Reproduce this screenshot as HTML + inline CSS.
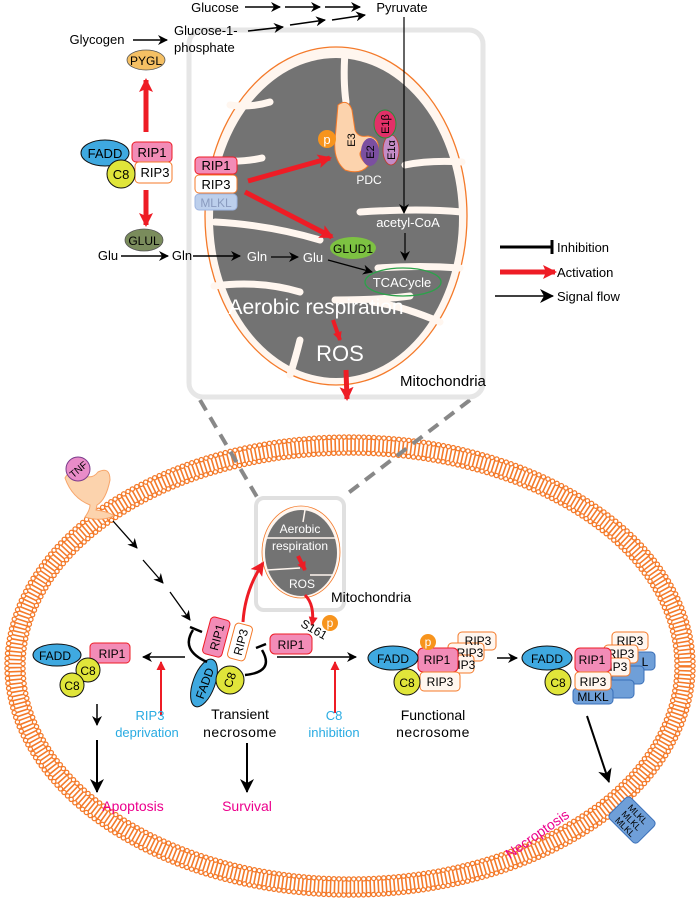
<!DOCTYPE html>
<html><head><meta charset="utf-8"><style>
html,body{margin:0;padding:0;background:#fff}
svg{display:block}
text{font-family:"Liberation Sans",sans-serif}
</style></head><body>
<svg width="700" height="900" viewBox="0 0 700 900" xmlns="http://www.w3.org/2000/svg">
<defs>
<marker id="ab" markerWidth="10" markerHeight="10" refX="9" refY="5" orient="auto" markerUnits="userSpaceOnUse"><path d="M0,0 L10,5 L0,10 L3,5 Z" fill="#000"/></marker>
<marker id="abL" markerWidth="14" markerHeight="14" refX="13" refY="7" orient="auto" markerUnits="userSpaceOnUse"><path d="M0,0 L14,7 L0,14 L4,7 Z" fill="#000"/></marker>
<marker id="ar" markerWidth="14" markerHeight="14" refX="12" refY="7" orient="auto" markerUnits="userSpaceOnUse"><path d="M0,0 L14,7 L0,14 L3,7 Z" fill="#ee1c25"/></marker>
<marker id="ars" markerWidth="9" markerHeight="9" refX="8" refY="4.5" orient="auto" markerUnits="userSpaceOnUse"><path d="M0,0 L9,4.5 L0,9 Z" fill="#ee1c25"/></marker>
</defs>

<!-- cell membrane -->
<ellipse cx="350" cy="666" rx="335" ry="221" fill="none" stroke="#f47a2a" stroke-width="16" stroke-dasharray="1.6 2.4"/>
<ellipse cx="350" cy="666" rx="343" ry="229" fill="none" stroke="#f47a2a" stroke-width="5.5" stroke-dasharray="0 5" stroke-linecap="round"/>
<ellipse cx="350" cy="666" rx="343" ry="229" fill="none" stroke="#fff" stroke-width="3" stroke-dasharray="0 5" stroke-linecap="round"/>
<ellipse cx="350" cy="666" rx="327" ry="213" fill="none" stroke="#f47a2a" stroke-width="5.5" stroke-dasharray="0 5" stroke-linecap="round"/>
<ellipse cx="350" cy="666" rx="327" ry="213" fill="none" stroke="#fff" stroke-width="3" stroke-dasharray="0 5" stroke-linecap="round"/>

<!-- dashed zoom lines -->
<line x1="200" y1="400" x2="257" y2="497" stroke="#888" stroke-width="4" stroke-dasharray="12 8"/>
<line x1="470" y1="400" x2="343" y2="497" stroke="#888" stroke-width="4" stroke-dasharray="12 8"/>

<!-- big mito box -->
<rect x="189" y="30" width="294" height="367" rx="14" fill="#fff" stroke="#e6e6e6" stroke-width="5"/>
<ellipse cx="336" cy="216" rx="131" ry="169" fill="#fff6ef" stroke="#f47a2a" stroke-width="1.3"/>
<ellipse cx="336" cy="218" rx="123" ry="160" fill="#737373"/>
<g stroke="#fff6ef" stroke-width="7" stroke-linecap="round" fill="none">
<path d="M345 52 Q343 80 346 102"/>
<path d="M214 160 Q240 163 262 158"/>
<path d="M215 222 Q270 225 320 240"/>
<path d="M214 286 Q260 280 300 292"/>
<path d="M230 105 Q250 108 270 102"/>
<path d="M462 162 Q430 160 405 165"/>
<path d="M462 212 Q420 208 360 212"/>
<path d="M460 268 Q420 265 378 268"/>
<path d="M440 322 Q400 305 372 302"/>
<path d="M300 340 Q295 360 290 375"/>
<path d="M335 300 Q380 300 410 296"/>
</g>

<!-- PDC -->
<path d="M338 105 Q348 98 352 110 L355 130 Q358 138 368 136 Q380 138 378 150 Q370 152 362 150 Q356 155 368 166 Q360 175 345 170 Q333 160 335 140 Z" fill="#fcd3ad" stroke="#f47a2a" stroke-width="1"/>
<text x="355" y="140" font-size="11" transform="rotate(-90 355 140)" text-anchor="middle">E3</text>
<ellipse cx="370" cy="152" rx="9" ry="14" fill="#7b4fa0"/>
<text x="374" y="152" font-size="11" transform="rotate(-90 374 152)" text-anchor="middle">E2</text>
<ellipse cx="391" cy="150" rx="8" ry="15" fill="#c48cc6" stroke="#c0392b" stroke-width="0.8"/>
<text x="395" y="150" font-size="11" transform="rotate(-90 395 150)" text-anchor="middle">E1α</text>
<ellipse cx="385" cy="124" rx="11" ry="14" fill="#e23068" stroke="#2a8b3a" stroke-width="1"/>
<text x="389" y="124" font-size="11" transform="rotate(-90 389 124)" text-anchor="middle">E1β</text>
<circle cx="327" cy="139" r="9" fill="#f7941d"/>
<text x="327" y="144" font-size="13" fill="#fff" text-anchor="middle">p</text>
<text x="369" y="184" font-size="12" fill="#fff" text-anchor="middle">PDC</text>

<!-- inner complex -->
<rect x="195" y="157" width="42" height="17" rx="4" fill="#f28cb7" stroke="#ee1c25" stroke-width="1"/>
<text x="216" y="170" font-size="13" text-anchor="middle">RIP1</text>
<rect x="195" y="175" width="42" height="18" rx="4" fill="#fff" stroke="#f47a2a" stroke-width="1"/>
<text x="216" y="189" font-size="13" text-anchor="middle">RIP3</text>
<rect x="195" y="194" width="42" height="16" rx="4" fill="#bccfec" stroke="#9db4e0" stroke-width="1"/>
<text x="216" y="207" font-size="12" fill="#8a9bbf" text-anchor="middle">MLKL</text>
<line x1="248" y1="181" x2="330" y2="158" stroke="#ee1c25" stroke-width="5" marker-end="url(#ar)"/>
<line x1="245" y1="192" x2="332" y2="237" stroke="#ee1c25" stroke-width="5" marker-end="url(#ar)"/>

<!-- GLUD1 / TCA -->
<ellipse cx="353" cy="248" rx="23" ry="11" fill="#7dc242"/>
<text x="353" y="253" font-size="12" text-anchor="middle">GLUD1</text>
<ellipse cx="403" cy="282" rx="38" ry="14" fill="none" stroke="#2ca24a" stroke-width="1.3"/>
<text x="402" y="287" font-size="13" fill="#fff" text-anchor="middle">TCACycle</text>
<text x="408" y="227" font-size="13" fill="#fff" text-anchor="middle">acetyl-CoA</text>
<line x1="404" y1="17" x2="404" y2="213" stroke="#000" stroke-width="1.2" marker-end="url(#ab)"/>
<line x1="405" y1="233" x2="405" y2="260" stroke="#000" stroke-width="1.2" marker-end="url(#ab)"/>
<text x="257" y="261" font-size="13" fill="#fff" text-anchor="middle">Gln</text>
<line x1="271" y1="257" x2="298" y2="257" stroke="#000" stroke-width="1.3" marker-end="url(#ab)"/>
<text x="313" y="262" font-size="13" fill="#fff" text-anchor="middle">Glu</text>
<line x1="328" y1="260" x2="372" y2="272" stroke="#000" stroke-width="1.3" marker-end="url(#ab)"/>
<text x="316" y="314" font-size="21" fill="#fff" text-anchor="middle">Aerobic respiration</text>
<line x1="333" y1="320" x2="340" y2="340" stroke="#ee1c25" stroke-width="4" marker-end="url(#ars)"/>
<text x="340" y="361" font-size="22" fill="#fff" text-anchor="middle">ROS</text>
<line x1="346" y1="370" x2="347" y2="399" stroke="#ee1c25" stroke-width="5" marker-end="url(#ar)"/>
<text x="400" y="386" font-size="15">Mitochondria</text>

<!-- top metabolism -->
<text x="215" y="12" font-size="13" text-anchor="middle">Glucose</text>
<line x1="245" y1="7" x2="280" y2="7" stroke="#000" stroke-width="1.5" marker-end="url(#ab)"/>
<line x1="285" y1="7" x2="320" y2="7" stroke="#000" stroke-width="1.5" marker-end="url(#ab)"/>
<line x1="325" y1="7" x2="360" y2="7" stroke="#000" stroke-width="1.5" marker-end="url(#ab)"/>
<text x="402" y="12" font-size="13" text-anchor="middle">Pyruvate</text>
<text x="174" y="35" font-size="13">Glucose-1-</text>
<text x="174" y="52" font-size="13">phosphate</text>
<line x1="248" y1="31" x2="283" y2="27" stroke="#000" stroke-width="1.5" marker-end="url(#ab)"/>
<line x1="290" y1="25" x2="325" y2="20" stroke="#000" stroke-width="1.5" marker-end="url(#ab)"/>
<line x1="332" y1="20" x2="365" y2="15" stroke="#000" stroke-width="1.5" marker-end="url(#ab)"/>
<text x="97" y="44" font-size="13" text-anchor="middle">Glycogen</text>
<line x1="133" y1="40" x2="167" y2="40" stroke="#000" stroke-width="1.5" marker-end="url(#ab)"/>
<ellipse cx="146" cy="60" rx="19" ry="10" fill="#f5c064" stroke="#555" stroke-width="0.8"/>
<text x="146" y="65" font-size="12" text-anchor="middle">PYGL</text>
<line x1="146" y1="132" x2="146" y2="80" stroke="#ee1c25" stroke-width="5" marker-end="url(#ar)"/>

<!-- top left complex -->
<ellipse cx="105" cy="153" rx="24" ry="13" fill="#3fa9e0" stroke="#111" stroke-width="1"/>
<text x="105" y="158" font-size="13" text-anchor="middle">FADD</text>
<rect x="132" y="142" width="40" height="20" rx="4" fill="#f28cb7" stroke="#ee1c25" stroke-width="1"/>
<text x="152" y="157" font-size="13" text-anchor="middle">RIP1</text>
<rect x="135" y="162" width="37" height="21" rx="4" fill="#fff" stroke="#f47a2a" stroke-width="1"/>
<text x="155" y="177" font-size="13" text-anchor="middle">RIP3</text>
<circle cx="121" cy="174" r="14" fill="#e0e53a" stroke="#111" stroke-width="1"/>
<text x="121" y="179" font-size="13" text-anchor="middle">C8</text>
<line x1="146" y1="190" x2="146" y2="225" stroke="#ee1c25" stroke-width="5" marker-end="url(#ar)"/>
<ellipse cx="144" cy="240" rx="19" ry="11" fill="#7a8c5c" stroke="#555" stroke-width="0.8"/>
<text x="144" y="245" font-size="12" text-anchor="middle">GLUL</text>
<text x="108" y="260" font-size="13" text-anchor="middle">Glu</text>
<line x1="121" y1="256" x2="168" y2="256" stroke="#000" stroke-width="1.5" marker-end="url(#ab)"/>
<text x="182" y="260" font-size="13" text-anchor="middle">Gln</text>
<line x1="193" y1="256" x2="240" y2="256" stroke="#000" stroke-width="1.5" marker-end="url(#ab)"/>

<!-- legend -->
<line x1="500" y1="247" x2="552" y2="247" stroke="#000" stroke-width="3"/>
<line x1="552" y1="240" x2="552" y2="254" stroke="#000" stroke-width="3"/>
<text x="557" y="252" font-size="13">Inhibition</text>
<line x1="500" y1="272" x2="555" y2="272" stroke="#ee1c25" stroke-width="5" marker-end="url(#ar)"/>
<text x="557" y="277" font-size="13">Activation</text>
<line x1="495" y1="296" x2="553" y2="296" stroke="#000" stroke-width="1.5" marker-end="url(#abL)"/>
<text x="557" y="301" font-size="13">Signal flow</text>

<!-- TNF receptor -->
<path d="M65 478 Q70 468 82 475 Q92 480 98 472 Q110 466 110 480 Q106 500 97 505 L96 510 Q110 512 114 516 Q100 522 85 517 Q90 510 90 505 Q72 498 65 478 Z" fill="#fcd3ad" stroke="#f7a56a" stroke-width="1"/>
<circle cx="78" cy="469" r="12" fill="#e98cc8" stroke="#7b3b8b" stroke-width="1"/>
<text x="78" y="473" font-size="10" text-anchor="middle" transform="rotate(-40 78 469)">TNF</text>
<!-- dashed signal -->
<line x1="113" y1="521" x2="137" y2="548" stroke="#000" stroke-width="1.3" marker-end="url(#ab)"/>
<line x1="143" y1="560" x2="163" y2="583" stroke="#000" stroke-width="1.3" marker-end="url(#ab)"/>
<line x1="170" y1="592" x2="190" y2="620" stroke="#000" stroke-width="1.3" marker-end="url(#ab)"/>

<!-- small mito box -->
<rect x="256" y="498" width="88" height="112" rx="8" fill="#fff" stroke="#e0e0e0" stroke-width="4"/>
<ellipse cx="301" cy="552" rx="39" ry="46" fill="#fff6ef" stroke="#f47a2a" stroke-width="0.8"/>
<ellipse cx="301" cy="553" rx="36" ry="43" fill="#737373"/>
<g stroke="#fff6ef" stroke-width="1.5" fill="none">
<path d="M267 538 L335 538"/><path d="M267 570 L300 568"/><path d="M305 510 L303 522"/><path d="M310 575 L333 575"/></g>
<text x="300" y="533" font-size="12" fill="#fff" text-anchor="middle">Aerobic</text>
<text x="300" y="550" font-size="12" fill="#fff" text-anchor="middle">respiration</text>
<text x="302" y="588" font-size="12" fill="#fff" text-anchor="middle">ROS</text>
<line x1="298" y1="556" x2="305" y2="570" stroke="#ee1c25" stroke-width="4" marker-end="url(#ars)"/>
<path d="M305 595 Q315 605 312 625" stroke="#ee1c25" stroke-width="3" fill="none" marker-end="url(#ars)"/>
<text x="331" y="602" font-size="14">Mitochondria</text>

<!-- transient necrosome -->
<path d="M243 622 Q245 590 263 563" stroke="#ee1c25" stroke-width="3" fill="none" marker-end="url(#ar)"/>
<g transform="rotate(-75 216 638)"><rect x="198" y="628" width="38" height="20" rx="4" fill="#f28cb7" stroke="#ee1c25" stroke-width="1"/><text x="217" y="643" font-size="12" text-anchor="middle">RIP1</text></g>
<g transform="rotate(-75 240 642)"><rect x="222" y="633" width="36" height="18" rx="4" fill="#fff" stroke="#f47a2a" stroke-width="1"/><text x="240" y="647" font-size="12" text-anchor="middle">RIP3</text></g>
<ellipse cx="204" cy="683" rx="11" ry="25" transform="rotate(20 204 683)" fill="#3fa9e0" stroke="#111" stroke-width="1"/>
<text x="204" y="688" font-size="12" text-anchor="middle" transform="rotate(-70 204 683)">FADD</text>
<circle cx="230" cy="680" r="14" fill="#e0e53a" stroke="#111" stroke-width="1"/>
<text x="230" y="684" font-size="12" text-anchor="middle" transform="rotate(-70 230 680)">C8</text>
<path d="M207 662 Q180 650 193 630" stroke="#000" stroke-width="2.5" fill="none"/>
<line x1="190" y1="627" x2="202" y2="632" stroke="#000" stroke-width="2.5"/>
<path d="M245 675 Q275 672 262 650" stroke="#000" stroke-width="2.5" fill="none"/>
<line x1="256" y1="648" x2="266" y2="644" stroke="#000" stroke-width="2.5"/>
<text x="240" y="719" font-size="14" text-anchor="middle">Transient</text>
<text x="240" y="737" font-size="14" text-anchor="middle" letter-spacing="0.5">necrosome</text>

<!-- left apoptotic complex -->
<line x1="185" y1="657" x2="143" y2="657" stroke="#000" stroke-width="1.5" marker-end="url(#ab)"/>
<line x1="161" y1="715" x2="161" y2="662" stroke="#ee1c25" stroke-width="2" marker-end="url(#ars)"/>
<text x="150" y="720" font-size="13" fill="#29abe2" text-anchor="middle">RIP3</text>
<text x="147" y="737" font-size="13" fill="#29abe2" text-anchor="middle">deprivation</text>
<ellipse cx="57" cy="655" rx="24" ry="11" fill="#3fa9e0" stroke="#111" stroke-width="1"/>
<text x="55" y="660" font-size="12" text-anchor="middle">FADD</text>
<rect x="90" y="643" width="40" height="20" rx="4" fill="#f28cb7" stroke="#ee1c25" stroke-width="1"/>
<text x="112" y="658" font-size="12" text-anchor="middle">RIP1</text>
<circle cx="88" cy="670" r="12" fill="#e0e53a" stroke="#111" stroke-width="1"/>
<text x="88" y="675" font-size="12" text-anchor="middle">C8</text>
<circle cx="72" cy="685" r="12" fill="#e0e53a" stroke="#111" stroke-width="1"/>
<text x="72" y="690" font-size="12" text-anchor="middle">C8</text>
<line x1="97" y1="704" x2="97" y2="725" stroke="#000" stroke-width="1.5" marker-end="url(#ab)"/>
<line x1="97" y1="740" x2="97" y2="792" stroke="#000" stroke-width="2" marker-end="url(#abL)"/>
<text x="133" y="811" font-size="14" fill="#ec008c" text-anchor="middle">Apoptosis</text>
<line x1="247" y1="743" x2="247" y2="792" stroke="#000" stroke-width="2" marker-end="url(#abL)"/>
<text x="247" y="811" font-size="14" fill="#ec008c" text-anchor="middle">Survival</text>

<!-- RIP1 S161 -->
<rect x="270" y="634" width="42" height="20" rx="5" fill="#f28cb7" stroke="#ee1c25" stroke-width="1"/>
<text x="291" y="649" font-size="12" text-anchor="middle">RIP1</text>
<text x="312" y="633" font-size="12" transform="rotate(30 312 633)" text-anchor="middle">S161</text>
<circle cx="330" cy="623" r="8" fill="#f7941d"/>
<text x="330" y="627" font-size="12" fill="#fff" text-anchor="middle">p</text>
<line x1="277" y1="657" x2="356" y2="657" stroke="#000" stroke-width="1.5" marker-end="url(#ab)"/>
<line x1="335" y1="713" x2="335" y2="662" stroke="#ee1c25" stroke-width="2" marker-end="url(#ars)"/>
<text x="334" y="720" font-size="13" fill="#29abe2" text-anchor="middle">C8</text>
<text x="334" y="737" font-size="13" fill="#29abe2" text-anchor="middle">inhibition</text>

<!-- functional necrosome -->
<g fill="#fff6ef" stroke="#f47a2a" stroke-width="1" font-size="12">
<rect x="458" y="632" width="38" height="18" rx="4"/><rect x="448" y="643" width="36" height="18" rx="4"/><rect x="440" y="655" width="34" height="18" rx="4"/>
</g>
<text x="478" y="645" font-size="12" text-anchor="middle">RIP3</text>
<text x="470" y="657" font-size="12" text-anchor="middle">RIP3</text>
<text x="462" y="669" font-size="12" text-anchor="middle">RIP3</text>
<rect x="418" y="648" width="40" height="24" rx="5" fill="#f28cb7" stroke="#ee1c25" stroke-width="1"/>
<text x="437" y="664" font-size="12" text-anchor="middle">RIP1</text>
<rect x="420" y="672" width="40" height="19" rx="4" fill="#fff6ef" stroke="#f47a2a" stroke-width="1"/>
<text x="440" y="686" font-size="12" text-anchor="middle">RIP3</text>
<ellipse cx="393" cy="658" rx="25" ry="12" fill="#3fa9e0" stroke="#111" stroke-width="1"/>
<text x="393" y="663" font-size="12" text-anchor="middle">FADD</text>
<circle cx="407" cy="682" r="13" fill="#e0e53a" stroke="#111" stroke-width="1"/>
<text x="407" y="687" font-size="12" text-anchor="middle">C8</text>
<circle cx="428" cy="642" r="8" fill="#f7941d"/>
<text x="428" y="646" font-size="12" fill="#fff" text-anchor="middle">p</text>
<text x="433" y="720" font-size="14" text-anchor="middle">Functional</text>
<text x="433" y="737" font-size="14" text-anchor="middle" letter-spacing="0.5">necrosome</text>
<line x1="497" y1="658" x2="517" y2="658" stroke="#000" stroke-width="1.5" marker-end="url(#ab)"/>

<!-- MLKL complex -->
<g fill="#6f9fd8" stroke="#3a6fb8" stroke-width="1">
<rect x="622" y="652" width="33" height="18" rx="4"/><rect x="612" y="666" width="32" height="18" rx="4"/><rect x="602" y="680" width="32" height="18" rx="4"/>
</g>
<g fill="#fff6ef" stroke="#f47a2a" stroke-width="1">
<rect x="612" y="632" width="36" height="18" rx="4"/><rect x="604" y="645" width="34" height="18" rx="4"/><rect x="598" y="658" width="32" height="18" rx="4"/>
</g>
<text x="630" y="645" font-size="12" text-anchor="middle">RIP3</text>
<text x="621" y="658" font-size="12" text-anchor="middle">RIP3</text>
<text x="614" y="671" font-size="12" text-anchor="middle">RIP3</text>
<text x="645" y="666" font-size="12" text-anchor="middle">L</text>
<rect x="573" y="688" width="40" height="16" rx="4" fill="#6f9fd8" stroke="#3a6fb8" stroke-width="1"/>
<text x="593" y="701" font-size="12" text-anchor="middle">MLKL</text>
<rect x="575" y="648" width="36" height="24" rx="5" fill="#f28cb7" stroke="#ee1c25" stroke-width="1"/>
<text x="592" y="664" font-size="12" text-anchor="middle">RIP1</text>
<rect x="575" y="672" width="36" height="18" rx="4" fill="#fff6ef" stroke="#f47a2a" stroke-width="1"/>
<text x="593" y="686" font-size="12" text-anchor="middle">RIP3</text>
<ellipse cx="547" cy="658" rx="25" ry="12" fill="#3fa9e0" stroke="#111" stroke-width="1"/>
<text x="547" y="663" font-size="12" text-anchor="middle">FADD</text>
<circle cx="558" cy="682" r="13" fill="#e0e53a" stroke="#111" stroke-width="1"/>
<text x="558" y="687" font-size="12" text-anchor="middle">C8</text>
<line x1="587" y1="716" x2="609" y2="782" stroke="#000" stroke-width="2" marker-end="url(#abL)"/>

<!-- MLKL pore -->
<g transform="rotate(45 632 820)">
<rect x="612" y="805" width="40" height="30" rx="4" fill="#6f9fd8" stroke="#3a6fb8" stroke-width="1"/>
<text x="632" y="815" font-size="9" text-anchor="middle">MLKL</text>
<text x="632" y="824" font-size="9" text-anchor="middle">MLKL</text>
<text x="632" y="833" font-size="9" text-anchor="middle">MLKL</text>
</g>
<text x="540" y="838" font-size="14" fill="#ec008c" text-anchor="middle" transform="rotate(-35 540 838)">Necroptosis</text>
</svg>
</body></html>
